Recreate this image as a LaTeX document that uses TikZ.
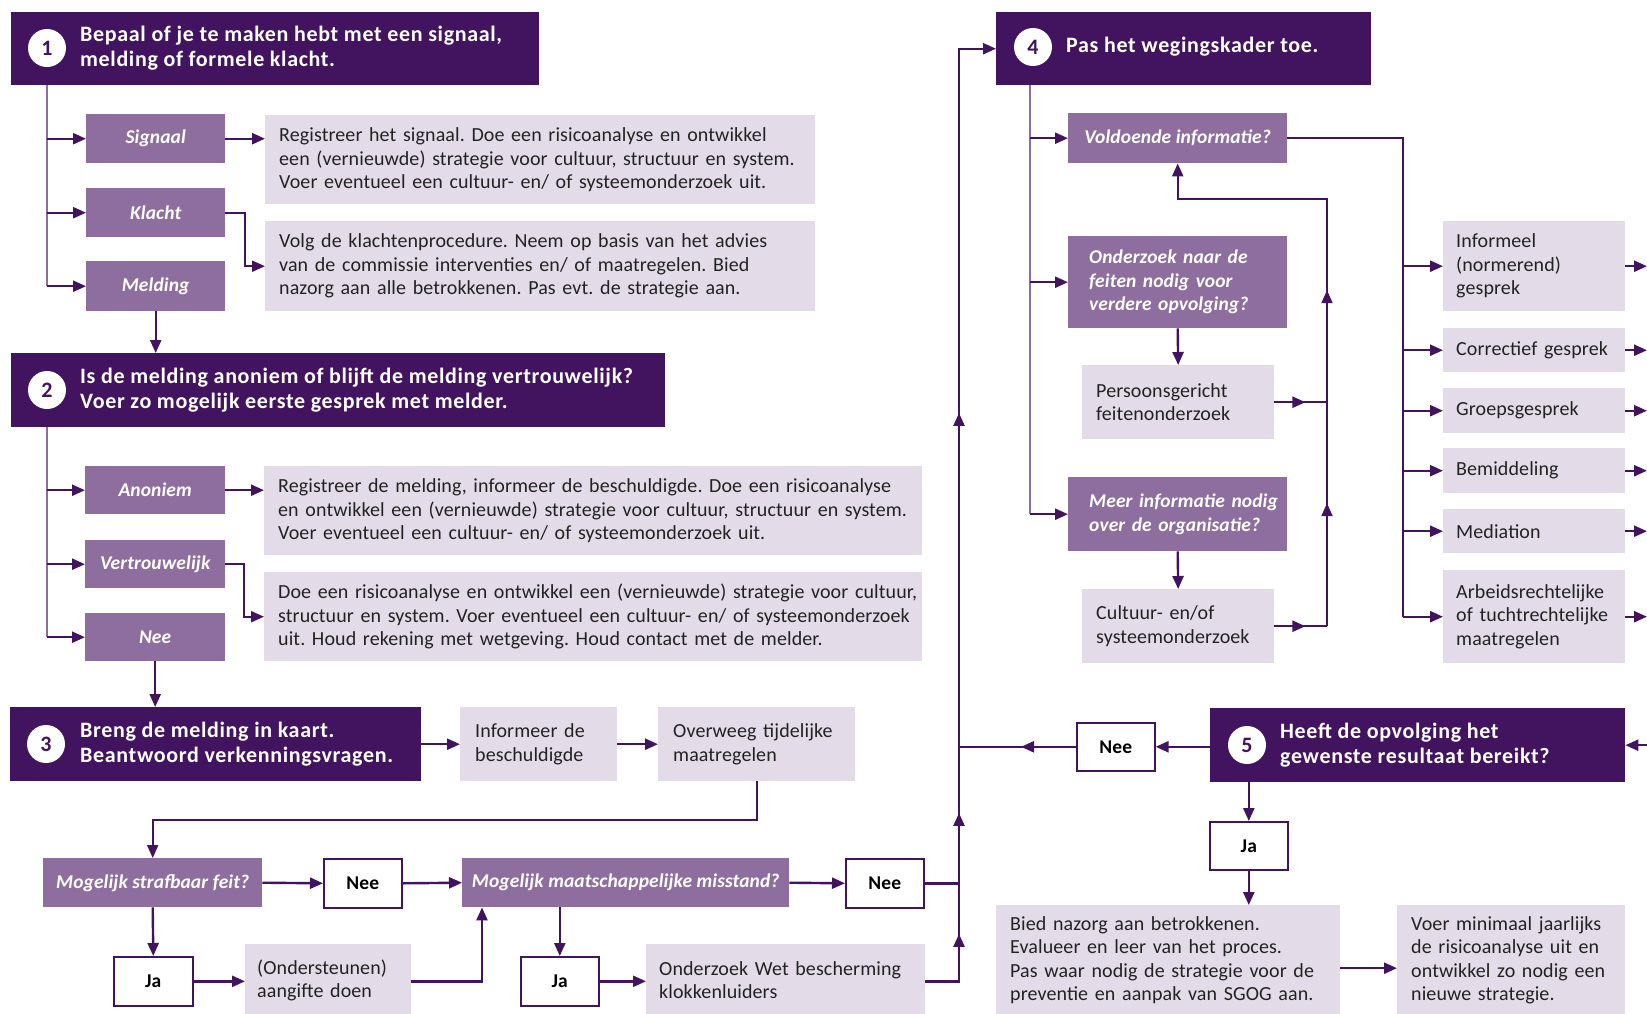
\documentclass[tikz,border=0pt]{standalone}
\usepackage{fontspec}
\setmainfont{Carlito}[LetterSpace=0.5]
\newfontfamily\hdrfont{Carlito}[LetterSpace=3]
\usetikzlibrary{arrows.meta,decorations.markings,calc}
\definecolor{dk}{HTML}{42145F}
\definecolor{md}{HTML}{8D6E9F}
\definecolor{lt}{HTML}{E3DCE8}
\definecolor{txt}{HTML}{222222}
\tikzset{
  hdr/.style={fill=dk, draw=none, anchor=north west, inner sep=0pt},
  hdrtext/.style={anchor=west, align=left, text=white, inner sep=0pt, font=\hdrfont\bfseries\fontsize{22}{25.5}\selectfont},
  num/.style={circle, fill=white, minimum size=38pt, inner sep=0pt, text=dk, font=\bfseries\fontsize{22}{24}\selectfont},
  pbox/.style={fill=md, anchor=north west, inner sep=0pt, text=white, align=center, font=\bfseries\itshape\fontsize{19.5}{23.5}\selectfont},
  pboxl/.style={fill=md, anchor=north west, inner xsep=21pt, inner ysep=0pt, text=white, align=left, font=\bfseries\itshape\fontsize{19.5}{23.5}\selectfont},
  lbox/.style={fill=lt, anchor=north west, inner xsep=14pt, inner ysep=0pt, text=txt, align=left, font=\fontsize{20}{23.5}\selectfont},
  wbox/.style={fill=white, draw=dk, line width=1.6pt, anchor=north west, inner sep=0pt, text=black, font=\bfseries\fontsize{19.5}{22}\selectfont},
  arr/.style={draw=dk, line width=2.4pt, -{Triangle[length=13pt,width=11pt]}},
  lin/.style={draw=dk, line width=2pt},
  trunk/.style={draw=md, line width=2pt},
  midarr/.style={postaction={decorate,decoration={markings,mark=at position #1 with {\arrow[dk]{Triangle[length=13pt,width=11pt]}}}}}
}
\begin{document}
\frenchspacing
\begin{tikzpicture}[x=1pt,y=-1pt]
\useasboundingbox (0,0) rectangle (1647,1013);
\fill[white] (0,0) rectangle (1647,1013);
% ---------- helper coordinates
\coordinate (t1) at (47,0);
\coordinate (v) at (959,0);
\coordinate (t4) at (1030,0);
\coordinate (l) at (1327,0);
\coordinate (lb) at (1327,199);
\coordinate (r) at (1403,0);
\coordinate (re) at (1647,0);
% ---------- block 1
\node[hdr, minimum width=528pt, minimum height=73pt] (h1) at (11,12) {};
\node[num] (n1) at (47,48) {1};
\node[hdrtext] (h1t) at (80,48) {Bepaal of je te maken hebt met een signaal,\\melding of formele klacht.};
\node[pbox, minimum width=139pt, minimum height=49pt] (sig) at (86,114) {Signaal};
\node[pbox, minimum width=139pt, minimum height=49pt] (kla) at (86,188) {Klacht};
\node[pbox, minimum width=139pt, minimum height=50pt] (mel) at (86,261) {Melding};
\node[lbox, text width=522pt, minimum height=89pt] (tx1) at (265,115) {\mbox{Registreer het signaal. Doe een risicoanalyse en ontwikkel}\\\mbox{een (vernieuwde) strategie voor cultuur, structuur en system.}\\\mbox{Voer eventueel een cultuur- en/ of systeemonderzoek uit.}};
\node[lbox, text width=522pt, minimum height=90pt] (tx2) at (265,221) {\mbox{Volg de klachtenprocedure. Neem op basis van het advies}\\\mbox{van de commissie interventies en/ of maatregelen. Bied}\\\mbox{nazorg aan alle betrokkenen. Pas evt. de strategie aan.}};
% ---------- block 2
\node[hdr, minimum width=654pt, minimum height=74pt] (h2) at (11,353) {};
\node[num] (n2) at (47,390) {2};
\node[hdrtext] (h2t) at (80,390) {Is de melding anoniem of blijft de melding vertrouwelijk?\\Voer zo mogelijk eerste gesprek met melder.};
\node[pbox, minimum width=140pt, minimum height=48pt] (ano) at (85,466) {Anoniem};
\node[pbox, minimum width=140pt, minimum height=48pt] (ver) at (85,540) {Vertrouwelijk};
\node[pbox, minimum width=140pt, minimum height=48pt] (nee0) at (85,613) {Nee};
\node[lbox, text width=630pt, minimum height=89pt] (tx3) at (264,466) {\mbox{Registreer de melding, informeer de beschuldigde. Doe een risicoanalyse}\\\mbox{en ontwikkel een (vernieuwde) strategie voor cultuur, structuur en system.}\\\mbox{Voer eventueel een cultuur- en/ of systeemonderzoek uit.}};
\node[lbox, text width=630pt, minimum height=89pt] (tx4) at (264,572) {\mbox{Doe een risicoanalyse en ontwikkel een (vernieuwde) strategie voor cultuur,}\\\mbox{structuur en system. Voer eventueel een cultuur- en/ of systeemonderzoek}\\\mbox{uit. Houd rekening met wetgeving. Houd contact met de melder.}};
% ---------- block 3
\node[hdr, minimum width=411pt, minimum height=74pt] (h3) at (10,707) {};
\node[num] (n3) at (46,744) {3};
\node[hdrtext] (h3t) at (80,744) {Breng de melding in kaart.\\Beantwoord verkenningsvragen.};
\node[lbox, inner xsep=15pt, text width=127pt, minimum height=74pt] (inb) at (460,707) {Informeer de\\beschuldigde};
\node[lbox, inner xsep=15pt, text width=167pt, minimum height=74pt] (ovw) at (658,707) {\mbox{Overweeg tijdelijke}\\maatregelen};
\node[pbox, minimum width=219pt, minimum height=49pt] (str) at (43,858) {Mogelijk strafbaar feit?};
\node[wbox, minimum width=78pt, minimum height=49pt] (nee1) at (323,858) {Nee};
\node[pbox, minimum width=327pt, minimum height=49pt] (maa) at (462,858) {Mogelijk maatschappelijke misstand?};
\node[wbox, minimum width=78pt, minimum height=49pt] (nee2) at (845,858) {Nee};
\node[wbox, minimum width=79pt, minimum height=49pt] (ja1) at (113,956) {Ja};
\node[lbox, inner xsep=12pt, text width=142pt, minimum height=72pt] (ost) at (245,944) {(Ondersteunen)\\aangifte doen};
\node[wbox, minimum width=78pt, minimum height=49pt] (ja2) at (520,956) {Ja};
\node[lbox, inner xsep=13pt, text width=253pt, minimum height=72pt] (owb) at (646,944) {\mbox{Onderzoek Wet bescherming}\\klokkenluiders};
% ---------- block 4
\node[hdr, minimum width=375pt, minimum height=73pt] (h4) at (996,12) {};
\node[num] (n4) at (1033,47) {4};
\node[hdrtext] (h4t) at (1066,47) {Pas het wegingskader toe.};
\node[pbox, minimum width=219pt, minimum height=50pt] (vol) at (1068,113) {Voldoende informatie?};
\node[pboxl, text width=177pt, minimum height=92pt] (onz) at (1068,236) {\mbox{Onderzoek naar de}\\\mbox{feiten nodig voor}\\\mbox{verdere opvolging?}};
\node[lbox, text width=164pt, minimum height=74pt] (per) at (1082,365) {Persoonsgericht\\feitenonderzoek};
\node[pboxl, text width=177pt, minimum height=74pt] (mee) at (1068,477) {\mbox{Meer informatie nodig}\\\mbox{over de organisatie?}};
\node[lbox, text width=164pt, minimum height=74pt] (cul) at (1082,589) {Cultuur- en/of\\systeemonderzoek};
\node[lbox, inner xsep=13pt, text width=156pt, minimum height=90pt] (inf) at (1443,221) {Informeel\\(normerend)\\gesprek};
\node[lbox, inner xsep=13pt, text width=156pt, minimum height=44pt] (cor) at (1443,328) {\mbox{Correctief gesprek}};
\node[lbox, inner xsep=13pt, text width=156pt, minimum height=45pt] (gro) at (1443,388) {Groepsgesprek};
\node[lbox, inner xsep=13pt, text width=156pt, minimum height=45pt] (bem) at (1443,448) {Bemiddeling};
\node[lbox, inner xsep=13pt, text width=156pt, minimum height=44pt] (med) at (1443,509) {Mediation};
\node[lbox, inner xsep=13pt, text width=156pt, minimum height=93pt] (arb) at (1443,570) {\mbox{Arbeidsrechtelijke}\\\mbox{of tuchtrechtelijke}\\maatregelen};
% ---------- block 5
\node[hdr, minimum width=415pt, minimum height=74pt] (h5) at (1210,708) {};
\node[num] (n5) at (1247,745) {5};
\node[hdrtext] (h5t) at (1280,745) {Heeft de opvolging het\\gewenste resultaat bereikt?};
\node[wbox, minimum width=78pt, minimum height=48pt] (neeR) at (1076,722) {Nee};
\node[wbox, minimum width=78pt, minimum height=48pt] (jaR) at (1209,821) {Ja};
\node[lbox, text width=316pt, minimum height=110pt] (bie) at (996,905) {\mbox{Bied nazorg aan betrokkenen.}\\\mbox{Evalueer en leer van het proces.}\\\mbox{Pas waar nodig de strategie voor de}\\\mbox{preventie en aanpak van SGOG aan.}};
\node[lbox, text width=200pt, minimum height=110pt] (voe) at (1397,905) {\mbox{Voer minimaal jaarlijks}\\\mbox{de risicoanalyse uit en}\\\mbox{ontwikkel zo nodig een}\\\mbox{nieuwe strategie.}};
% ---------- connectors block 1
\draw[trunk] (h1.south -| t1) -- (t1 |- mel.west);
\draw[arr] (t1 |- sig.west) -- (sig.west);
\draw[arr] (t1 |- kla.west) -- (kla.west);
\draw[arr] (t1 |- mel.west) -- (mel.west);
\draw[arr] (sig.east) -- (sig.east -| tx1.west);
\draw[arr, line width=2pt] (kla.east) -- ++(20,0) |- (tx2.west);
\draw[arr] (mel.south) -- (mel.south |- h2.north);
% ---------- connectors block 2
\draw[trunk] (h2.south -| t1) -- (t1 |- nee0.west);
\draw[arr] (t1 |- ano.west) -- (ano.west);
\draw[arr] (t1 |- ver.west) -- (ver.west);
\draw[arr] (t1 |- nee0.west) -- (nee0.west);
\draw[arr] (ano.east) -- (ano.east -| tx3.west);
\draw[arr, line width=2pt] (ver.east) -- ++(19,0) |- (tx4.west);
\draw[arr] (nee0.south) -- (nee0.south |- h3.north);
% ---------- connectors block 3
\draw[arr] (h3.east |- inb.west) -- (inb.west);
\draw[arr] (inb.east) -- (ovw.west);
\draw[arr, line width=2pt] (ovw.south) -- ++(0,39) -| (str.north);
\draw[arr] (str.east) -- (nee1.west);
\draw[arr] (nee1.east) -- (maa.west);
\draw[arr] (maa.east) -- (nee2.west);
\draw[arr] (str.south) -- (ja1.north);
\draw[arr] (ja1.east) -- (ja1.east -| ost.west);
\draw[arr] (ja1.east -| ost.east) -| ([xshift=20pt]maa.south west);
\draw[arr] (ja2.north |- maa.south) -- (ja2.north);
\draw[arr] (ja2.east) -- (ja2.east -| owb.west);
\draw[arr, midarr=81pt, midarr=202pt, midarr=602pt] (ja2.east -| owb.east) -- (v |- ja2.east) -- (v |- h4.west) -- (h4.west);
\draw[lin, line width=2.4pt] (nee2.east) -- (v |- nee2.east);
% ---------- connectors block 4
\draw[trunk] (h4.south -| t4) -- (t4 |- mee.west);
\draw[arr] (t4 |- vol.west) -- (vol.west);
\draw[arr] (t4 |- onz.west) -- (onz.west);
\draw[arr] (t4 |- mee.west) -- (mee.west);
\draw[arr] (onz.south) -- (per.north);
\draw[arr] (mee.south) -- (cul.north);
\draw[lin, line width=2.4pt, midarr=31pt] (per.east) -- (l |- per.east);
\draw[lin, line width=2.4pt, midarr=31pt] (cul.east) -- (l |- cul.east);
\draw[arr, line width=2pt, midarr=123pt, midarr=336pt] (l |- cul.east) -- (lb) -| (vol.south);
\draw[lin] (vol.east) -- (r |- vol.east) -- (r |- arb.west);
\foreach \b in {inf,cor,gro,bem,med,arb}{
  \draw[arr] (r |- \b.west) -- (\b.west);
  \draw[arr] (\b.east) -- (re |- \b.east);
}
% ---------- connectors block 5
\draw[arr] (re |- h5.east) -- (h5.east);
\draw[arr] (h5.west |- neeR.east) -- (neeR.east);
\draw[lin, line width=2.4pt, midarr=55pt] (neeR.west) -- (v |- neeR.west);
\draw[arr] (jaR.north |- h5.south) -- (jaR.north);
\draw[arr] (jaR.south) -- (jaR.south |- bie.north);
\draw[arr] ([yshift=-8pt]bie.east) -- ([yshift=-8pt]bie.east -| voe.west);
\end{tikzpicture}
\end{document}
